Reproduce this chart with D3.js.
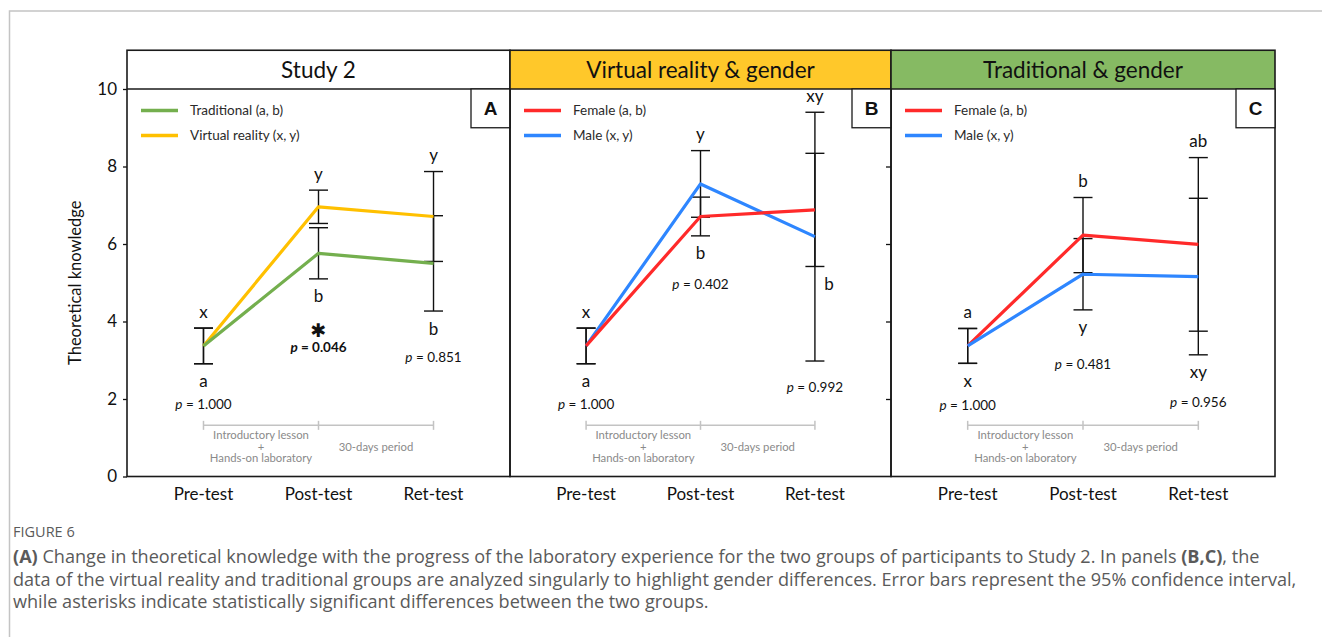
<!DOCTYPE html>
<html>
<head>
<meta charset="utf-8">
<script src="https://cdn.jsdelivr.net/npm/d3@7"></script>
<style>
  body { margin: 0; background: #fff; }
  svg { display: block; }
</style>
</head>
<body>
<svg id="fig" width="1322" height="637"></svg>
<script>
// ---- data -------------------------------------------------------------
const categories = ["Pre-test", "Post-test", "Ret-test"];
const yTicks = [0, 2, 4, 6, 8, 10];

// Study 2: mean theoretical knowledge and 95% CI half-widths
const traditionalMean = [3.37, 5.76, 5.50];
const traditionalCI   = [0.46, 0.66, 1.23];
const virtualMean     = [3.37, 6.96, 6.71];
const virtualCI       = [0.46, 0.43, 1.16];
const studyLettersTop    = ["x", "y", "y"];
const studyLettersBottom = ["a", "b", "b"];
const studyP             = ["1.000", "0.046", "0.851"];
const studySignificant   = [false, true, false];

// Virtual reality group split by gender
const vrFemaleMean = [3.37, 6.71, 6.88];
const vrFemaleCI   = [0.46, 0.50, 1.46];
const vrMaleMean   = [3.37, 7.55, 6.19];
const vrMaleCI     = [0.46, 0.86, 3.21];
const vrLettersTop    = ["x", "y", "xy"];
const vrLettersBottom = ["a", "b", "b"];
const vrP             = ["1.000", "0.402", "0.992"];
const vrSignificant   = [false, false, false];

// Traditional group split by gender
const trFemaleMean = [3.37, 6.23, 5.99];
const trFemaleCI   = [0.45, 0.97, 2.24];
const trMaleMean   = [3.37, 5.22, 5.16];
const trMaleCI     = [0.45, 0.92, 2.02];
const trLettersTop    = ["a", "b", "ab"];
const trLettersBottom = ["x", "y", "xy"];
const trP             = ["1.000", "0.481", "0.956"];
const trSignificant   = [false, false, false];

const phaseLabels = [["Introductory lesson", "+", "Hands-on laboratory"], ["30-days period"]];

// ---- styles -----------------------------------------------------------
const FONT = "Lato, 'Open Sans', sans-serif";
const C_GREEN = "#74AF4E", C_YELLOW = "#FFC000", C_RED = "#FF2A2A", C_BLUE = "#2E86FF";
const INK = "#111";

const svg = d3.select("#fig");

// outer card frame
svg.append("path")
  .attr("d", "M9.5,637 V11 H1322")
  .attr("fill", "none").attr("stroke", "#c4c4c4").attr("stroke-width", 1.5);

// shared vertical scale: the header band is the 10–11 strip
const y = d3.scaleLinear().domain([0, 11]).range([476.5, 50.25]);

const panels = [
  {
    x0: 127, x1: 510, title: "Study 2", fill: "#ffffff", tag: "A",
    series: [
      { name: "Virtual reality (x, y)", mean: virtualMean, ci: virtualCI, color: C_YELLOW },
      { name: "Traditional (a, b)", mean: traditionalMean, ci: traditionalCI, color: C_GREEN }
    ],
    legendOrder: [1, 0], top: 0, bottom: 1,
    lettersTop: studyLettersTop, lettersBottom: studyLettersBottom,
    p: studyP, sig: studySignificant, pDrop: [45, 73, 51], axis: "labels"
  },
  {
    x0: 510, x1: 891, title: "Virtual reality & gender", fill: "#FFC82A", tag: "B",
    series: [
      { name: "Male (x, y)", mean: vrMaleMean, ci: vrMaleCI, color: C_BLUE },
      { name: "Female (a, b)", mean: vrFemaleMean, ci: vrFemaleCI, color: C_RED }
    ],
    legendOrder: [1, 0], top: 0, bottom: 1,
    lettersTop: vrLettersTop, lettersBottom: vrLettersBottom,
    p: vrP, sig: vrSignificant, pDrop: [45, 53, 30.5], axis: "none"
  },
  {
    x0: 891, x1: 1275, title: "Traditional & gender", fill: "#86BA63", tag: "C",
    series: [
      { name: "Female (a, b)", mean: trFemaleMean, ci: trFemaleCI, color: C_RED },
      { name: "Male (x, y)", mean: trMaleMean, ci: trMaleCI, color: C_BLUE }
    ],
    legendOrder: [0, 1], top: 0, bottom: 1,
    lettersTop: trLettersTop, lettersBottom: trLettersBottom,
    p: trP, sig: trSignificant, pDrop: [46.5, 59.5, 52.4], axis: "ticks"
  }
];

panels.forEach(drawPanel);

function drawPanel(P) {
  const g = svg.append("g");
  const x = d3.scalePoint().domain(categories).range([P.x0, P.x1]).padding(0.665);
  const cx = (P.x0 + P.x1) / 2;

  // header band
  g.append("rect")
    .attr("x", P.x0).attr("y", y(11)).attr("width", P.x1 - P.x0).attr("height", y(10) - y(11))
    .attr("fill", P.fill);
  g.append("text")
    .attr("x", cx).attr("y", 78).attr("text-anchor", "middle")
    .attr("font-family", FONT).attr("font-size", 22.5).attr("fill", INK)
    .text(P.title);

  // axes
  if (P.axis === "labels") {
    const ax = g.append("g").attr("transform", `translate(${P.x0},0)`)
      .call(d3.axisLeft(y).tickValues(yTicks).tickSize(4).tickPadding(6));
    ax.select(".domain").remove();
    ax.selectAll("line").attr("stroke", INK).attr("stroke-width", 1.3);
    ax.selectAll("text").attr("font-family", FONT).attr("font-size", 17).attr("fill", INK);
  } else if (P.axis === "ticks") {
    const ax = g.append("g").attr("transform", `translate(${P.x0},0)`)
      .call(d3.axisLeft(y).tickValues(yTicks.filter(v => v > 0 && v < 10)).tickSize(5).tickFormat(""));
    ax.select(".domain").remove();
    ax.selectAll("line").attr("stroke", INK).attr("stroke-width", 1.3);
  }

  // category labels
  g.selectAll(".xlab").data(categories).join("text")
    .attr("x", d => x(d)).attr("y", 500).attr("text-anchor", "middle")
    .attr("font-family", FONT).attr("font-size", 17).attr("fill", INK)
    .text(d => d);

  // phase timeline
  const ty = y(1.32);
  const grey = "#c3c3c3";
  g.append("line").attr("x1", x(categories[0])).attr("x2", x(categories[2]))
    .attr("y1", ty).attr("y2", ty).attr("stroke", grey).attr("stroke-width", 1.5);
  categories.forEach(c => {
    g.append("line").attr("x1", x(c)).attr("x2", x(c)).attr("y1", ty - 4.5).attr("y2", ty + 4.5)
      .attr("stroke", grey).attr("stroke-width", 1.5);
  });
  phaseLabels.forEach((lines, i) => {
    const mx = (x(categories[i]) + x(categories[i + 1])) / 2;
    const n = lines.length;
    lines.forEach((t, j) => {
      g.append("text")
        .attr("x", mx).attr("y", 450.5 + (j - (n - 1) / 2) * 11.7)
        .attr("text-anchor", "middle").attr("font-family", FONT).attr("font-size", 11.3)
        .attr("fill", "#8a8a8a").text(t);
    });
  });

  // error bars (95% CI)
  const capW = 9.5;
  P.series.forEach(s => {
    categories.forEach((c, i) => {
      const hi = y(s.mean[i] + s.ci[i]), lo = y(s.mean[i] - s.ci[i]), xc = x(c);
      g.append("line").attr("x1", xc).attr("x2", xc).attr("y1", hi).attr("y2", lo)
        .attr("stroke", INK).attr("stroke-width", 1.4);
      [hi, lo].forEach(yy => g.append("line")
        .attr("x1", xc - capW).attr("x2", xc + capW).attr("y1", yy).attr("y2", yy)
        .attr("stroke", INK).attr("stroke-width", 1.4));
    });
  });

  // mean lines
  const line = d3.line().x((d, i) => x(categories[i])).y(d => y(d));
  P.series.forEach(s => {
    g.append("path").datum(s.mean).attr("d", line)
      .attr("fill", "none").attr("stroke", s.color).attr("stroke-width", 3.2)
      .attr("stroke-linejoin", "round");
  });

  // significance letters, p-values
  const top = P.series[P.top], bot = P.series[P.bottom];
  categories.forEach((c, i) => {
    const xc = x(c);
    const uppers = P.series.map(s => s.mean[i] + s.ci[i]);
    const lowers = P.series.map(s => s.mean[i] - s.ci[i]);
    const tUp = top.mean[i] + top.ci[i];
    const bLo = bot.mean[i] - bot.ci[i];
    const minLo = d3.min(lowers);

    const tTop = tUp >= d3.max(uppers) - 1e-9;
    g.append("text")
      .attr("x", tTop ? xc : xc + 14).attr("y", tTop ? y(tUp) - 10.5 : y(tUp) + 23.5)
      .attr("text-anchor", "middle").attr("font-family", FONT).attr("font-size", 17).attr("fill", INK)
      .text(P.lettersTop[i]);

    const bBottom = bLo <= minLo + 1e-9;
    g.append("text")
      .attr("x", bBottom ? xc : xc + 14).attr("y", y(bLo) + 23.5)
      .attr("text-anchor", "middle").attr("font-family", FONT).attr("font-size", 17).attr("fill", INK)
      .text(P.lettersBottom[i]);

    if (P.sig[i]) {
      g.append("text")
        .attr("x", xc).attr("y", y(minLo) + 51.7).attr("dy", "0.35em")
        .attr("text-anchor", "middle").attr("font-family", "DejaVu Sans").attr("font-size", 19)
        .attr("fill", INK).text("\u2731");
    }

    const pt = g.append("text")
      .attr("x", xc).attr("y", y(minLo) + P.pDrop[i])
      .attr("text-anchor", "middle").attr("font-family", FONT).attr("font-size", 13.5)
      .attr("fill", INK).attr("font-weight", P.sig[i] ? 700 : 400);
    pt.append("tspan").attr("font-style", "italic").text("p");
    pt.append("tspan").text(" = " + P.p[i]);
  });

  // legend
  P.legendOrder.forEach((k, j) => {
    const s = P.series[k];
    const ly = y(10) + 21.5 + j * 25;
    g.append("line").attr("x1", P.x0 + 14).attr("x2", P.x0 + 51).attr("y1", ly).attr("y2", ly)
      .attr("stroke", s.color).attr("stroke-width", 3.5);
    g.append("text").attr("x", P.x0 + 63).attr("y", ly).attr("dy", "0.35em")
      .attr("font-family", FONT).attr("font-size", 13.5).attr("fill", "#2a2a2a").text(s.name);
  });

  // frame and header rule
  g.append("rect")
    .attr("x", P.x0).attr("y", y(11)).attr("width", P.x1 - P.x0).attr("height", y(0) - y(11))
    .attr("fill", "none").attr("stroke", "#1a1a1a").attr("stroke-width", 1.6);
  g.append("line").attr("x1", P.x0).attr("x2", P.x1).attr("y1", y(10)).attr("y2", y(10))
    .attr("stroke", "#1a1a1a").attr("stroke-width", 1.6);

  // panel tag
  g.append("rect")
    .attr("x", P.x1 - 39).attr("y", y(10)).attr("width", 39).attr("height", y(9) - y(10))
    .attr("fill", "#fff").attr("stroke", "#1a1a1a").attr("stroke-width", 1.3);
  g.append("text")
    .attr("x", P.x1 - 19.5).attr("y", (y(10) + y(9)) / 2).attr("dy", "0.36em")
    .attr("text-anchor", "middle").attr("font-family", "'Liberation Sans', Arial, sans-serif")
    .attr("font-weight", 700).attr("font-size", 19).attr("fill", INK).text(P.tag);
}

// y-axis title
svg.append("text")
  .attr("transform", `translate(75,${(y(0) + y(10)) / 2}) rotate(-90)`)
  .attr("text-anchor", "middle").attr("dy", "0.35em")
  .attr("font-family", FONT).attr("font-size", 16.5).attr("fill", INK)
  .text("Theoretical knowledge");

// caption
const CAP_FONT = "'Open Sans', 'Noto Sans', sans-serif";
const capColor = "#5a5a5a";
svg.append("text").attr("x", 13).attr("y", 537)
  .attr("font-family", CAP_FONT).attr("font-size", 14.5).attr("fill", capColor)
  .text("FIGURE 6");

const captionLines = [
  [["(A)", true], [" Change in theoretical knowledge with the progress of the laboratory experience for the two groups of participants to Study 2. In panels ", false], ["(B,C)", true], [", the", false]],
  [["data of the virtual reality and traditional groups are analyzed singularly to highlight gender differences. Error bars represent the 95% confidence interval,", false]],
  [["while asterisks indicate statistically significant differences between the two groups.", false]]
];
captionLines.forEach((parts, i) => {
  const t = svg.append("text").attr("x", 13).attr("y", 563 + i * 22.5)
    .attr("font-family", CAP_FONT).attr("font-size", 18.1).attr("fill", capColor);
  parts.forEach(([s, b]) => t.append("tspan").attr("font-weight", b ? 700 : 400).text(s));
});
</script>
</body>
</html>
